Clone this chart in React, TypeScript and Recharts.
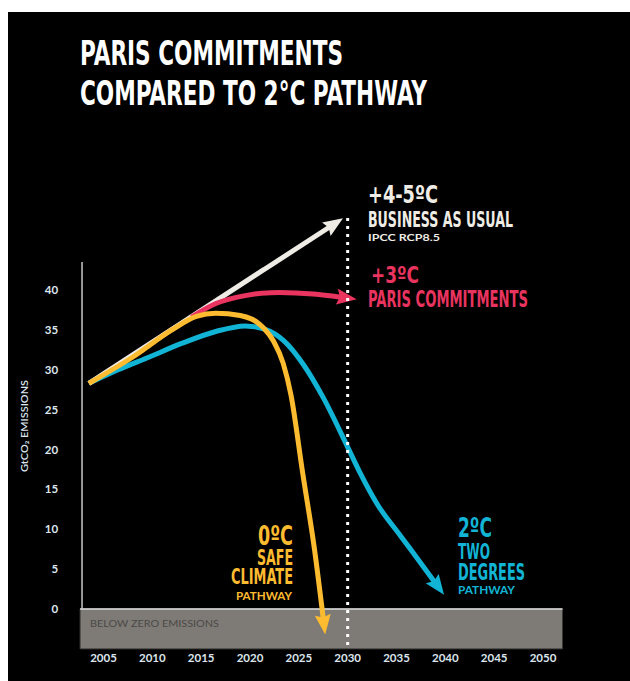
import React from 'react';
import {
  LineChart,
  Line,
  XAxis,
  YAxis,
  ReferenceArea,
  ReferenceLine,
} from 'recharts';

// Emission pathways, GtCO2 per year
const bauYears = [2003.5, 2028.15];
const bauValues = [28.3, 47.9];

const parisYears = [2014, 2016.5, 2019.5, 2023, 2026.5, 2029.3];
const parisValues = [36.6, 38.3, 39.3, 39.7, 39.5, 39.1];

const twoDegYears = [2003.5, 2006.5, 2009.5, 2013, 2016.5, 2019.5, 2021.5, 2023.5, 2025.5, 2027.5, 2030, 2031.3, 2033, 2035.4, 2037.7, 2038.9];
const twoDegValues = [28.3, 30.0, 31.5, 33.3, 34.8, 35.5, 35.1, 33.6, 30.6, 26.5, 20.3, 17.0, 13.2, 9.2, 5.4, 3.4];

const safeYears = [2003.5, 2008, 2012, 2014.5, 2016.5, 2019, 2021, 2022.4, 2023.4, 2024.2, 2025.4, 2026.6, 2027.5];
const safeValues = [28.3, 31.6, 35.0, 36.7, 37.1, 36.8, 35.7, 33.6, 30.8, 26.8, 17.0, 7.5, -1.2];

const xTicks = [2005, 2010, 2015, 2020, 2025, 2030, 2035, 2040, 2045, 2050];
const yTicks = [0, 5, 10, 15, 20, 25, 30, 35, 40];

const zip = (years: number[], values: number[]) =>
  years.map((year, i) => ({ year, value: values[i] }));

const bauData = zip(bauYears, bauValues);
const parisData = zip(parisYears, parisValues);
const twoDegData = zip(twoDegYears, twoDegValues);
const safeData = zip(safeYears, safeValues);

const WHITE = '#efece6';
const PINK = '#e8345f';
const YELLOW = '#fdbb30';
const BLUE = '#12b4d6';

const W = 622;
const H = 669;

const condensed = '"DejaVu Sans Condensed", "Liberation Sans Narrow", sans-serif';
const tickFont = 'Lato, "Open Sans", sans-serif';

const Arrow = ({ id, color }: { id: string; color: string }) => (
  <marker
    id={id}
    viewBox="0 0 20 16"
    refX={4}
    refY={8}
    markerWidth={20}
    markerHeight={16}
    markerUnits="userSpaceOnUse"
    orient="auto"
  >
    <path d="M0,0 L20,8 L0,16 L3,8 Z" fill={color} />
  </marker>
);

// one line of a stacked label: text, baseline, font size, drawn width
type Row = { t: string; y: number; size: number; len: number; small?: boolean; dx?: number };

const Block = ({ x, rows, fill, anchor = 'start' }: { x: number; rows: Row[]; fill: string; anchor?: 'start' | 'end' }) => (
  <text fill={fill} textAnchor={anchor} fontFamily={condensed} fontWeight="bold">
    {rows.map((r) => (
      <tspan
        key={r.t + r.y}
        x={x + (r.dx ?? 0)}
        y={r.y}
        fontSize={r.size}
        fontFamily={r.small ? tickFont : condensed}
        fontWeight={r.small ? 700 : 'bold'}
        textLength={r.len}
        lengthAdjust="spacingAndGlyphs"
      >
        {r.t}
      </tspan>
    ))}
  </text>
);

const titleRows: Row[] = [
  { t: 'PARIS COMMITMENTS', y: 53, size: 34, len: 263 },
  { t: 'COMPARED TO 2°C PATHWAY', y: 93, size: 34, len: 347 },
];

const bauRows: Row[] = [
  { t: '+4-5ºC', y: 191, size: 25, len: 70 },
  { t: 'BUSINESS AS USUAL', y: 215, size: 22, len: 145 },
  { t: 'IPCC RCP8.5', y: 229, size: 10, len: 72, small: true },
];

const parisRows: Row[] = [
  { t: '+3ºC', y: 271, size: 23, len: 48, dx: 3 },
  { t: 'PARIS COMMITMENTS', y: 295, size: 23, len: 160 },
];

const safeRows: Row[] = [
  { t: '0ºC', y: 533, size: 27, len: 35 },
  { t: 'SAFE', y: 553, size: 21, len: 36 },
  { t: 'CLIMATE', y: 572, size: 22, len: 62 },
  { t: 'PATHWAY', y: 588, size: 11, len: 56, small: true, dx: -1 },
];

const twoDegRows: Row[] = [
  { t: '2ºC', y: 525, size: 27, len: 34 },
  { t: 'TWO', y: 547, size: 22, len: 32 },
  { t: 'DEGREES', y: 568, size: 23, len: 67 },
  { t: 'PATHWAY', y: 582, size: 11, len: 57, small: true },
];

export default function App() {
  return (
    <div
      style={{
        position: 'fixed',
        left: 8,
        top: 12,
        width: W,
        height: H,
        background: '#000',
        overflow: 'hidden',
      }}
    >
      <LineChart
        width={W}
        height={H}
        margin={{ top: 182.3, right: 62.6, bottom: 2.1, left: 31.1 }}
        style={{ position: 'absolute', left: 0, top: 0 }}
      >
        <defs>
          <Arrow id="arrow-white" color={WHITE} />
          <Arrow id="arrow-pink" color={PINK} />
          <Arrow id="arrow-blue" color={BLUE} />
          <Arrow id="arrow-yellow" color={YELLOW} />
        </defs>
        <XAxis
          dataKey="year"
          type="number"
          domain={[2002.5, 2052.5]}
          ticks={xTicks}
          axisLine={false}
          tickLine={false}
          tickSize={0}
          tickMargin={5}
          height={30}
          tick={{ fill: '#dce6ee', fontSize: 11.5, fontFamily: tickFont, fontWeight: 700 }}
        />
        <YAxis
          type="number"
          domain={[-5, 52]}
          ticks={yTicks}
          axisLine={false}
          tickLine={false}
          tickSize={0}
          tickMargin={21}
          width={40}
          tick={{ fill: '#dce6ee', fontSize: 11.5, fontFamily: tickFont, fontWeight: 700 }}
        />
        {/* below-zero band */}
        <ReferenceArea
          x1={2002.6}
          x2={2052}
          y1={-5}
          y2={0}
          fill="#7e7b76"
          fillOpacity={1}
          stroke="#3a3936"
          strokeWidth={1}
        />
        <ReferenceLine
          segment={[{ x: 2002.6, y: 0 }, { x: 2052, y: 0 }]}
          stroke="#e8e8e8"
          strokeWidth={1.5}
        />
        <ReferenceLine
          segment={[{ x: 2002.8, y: 0 }, { x: 2002.8, y: 43.5 }]}
          stroke="#c8c8c8"
          strokeWidth={1.5}
        />
        <Line
          data={twoDegData}
          dataKey="value"
          type="monotone"
          stroke={BLUE}
          strokeWidth={5}
          dot={false}
          markerEnd="url(#arrow-blue)"
          isAnimationActive={false}
        />
        <Line
          data={bauData}
          dataKey="value"
          type="linear"
          stroke={WHITE}
          strokeWidth={5}
          dot={false}
          markerEnd="url(#arrow-white)"
          isAnimationActive={false}
        />
        <Line
          data={parisData}
          dataKey="value"
          type="monotone"
          stroke={PINK}
          strokeWidth={5}
          dot={false}
          markerEnd="url(#arrow-pink)"
          isAnimationActive={false}
        />
        <Line
          data={safeData}
          dataKey="value"
          type="monotone"
          stroke={YELLOW}
          strokeWidth={5}
          dot={false}
          markerEnd="url(#arrow-yellow)"
          isAnimationActive={false}
        />
        {/* 2030 marker */}
        <ReferenceLine
          segment={[{ x: 2030, y: -4.5 }, { x: 2030, y: 49.4 }]}
          stroke="#ffffff"
          strokeWidth={3}
          strokeDasharray="3 5"
        />
      </LineChart>

      <svg
        width={W}
        height={H}
        style={{ position: 'absolute', left: 0, top: 0, pointerEvents: 'none' }}
      >
        <defs>
          <radialGradient id="haze" cx="0.5" cy="0" r="0.5">
            <stop offset="0%" stopColor="#1a2a4a" stopOpacity={0.55} />
            <stop offset="100%" stopColor="#000" stopOpacity={0} />
          </radialGradient>
        </defs>
        <ellipse cx={390} cy={0} rx={190} ry={40} fill="url(#haze)" />

        <Block x={72} rows={titleRows} fill="#ffffff" />
        <Block x={360} rows={bauRows} fill={WHITE} />
        <Block x={360} rows={parisRows} fill={PINK} />
        <Block x={285} rows={safeRows} fill={YELLOW} anchor="end" />
        <Block x={450} rows={twoDegRows} fill={BLUE} />

        <text
          x={82}
          y={615}
          fontSize={9.5}
          fontFamily={tickFont}
          fill="#4b4946"
          textLength={129}
          lengthAdjust="spacingAndGlyphs"
        >
          BELOW ZERO EMISSIONS
        </text>

        <g transform="translate(19.5 414) rotate(-90)">
          <text
            x={0}
            y={0}
            fontSize={9}
            fontFamily={tickFont}
            fontWeight={600}
            fill="#dce6ee"
            textAnchor="middle"
            textLength={92}
            lengthAdjust="spacingAndGlyphs"
          >
            GtCO₂ EMISSIONS
          </text>
        </g>
      </svg>
    </div>
  );
}
